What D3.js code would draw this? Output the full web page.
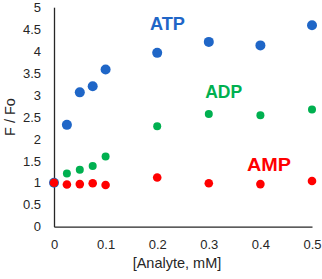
<!DOCTYPE html>
<html><head><meta charset="utf-8">
<script src="https://cdn.jsdelivr.net/npm/d3@7/dist/d3.min.js"></script>
<style>body{margin:0;background:#fff}svg{display:block}</style>
</head><body><svg id="c" width="322" height="279"></svg>
<script>
const xValues = [0, 0.025, 0.05, 0.075, 0.1, 0.2, 0.3, 0.4, 0.5];
const atp = [1, 2.32, 3.06, 3.20, 3.58, 3.96, 4.21, 4.13, 4.59];
const adp = [1, 1.21, 1.30, 1.38, 1.60, 2.29, 2.57, 2.54, 2.67];
const amp = [1, 0.96, 0.97, 0.99, 0.95, 1.12, 0.99, 0.97, 1.04];
const xTicks = [0, 0.1, 0.2, 0.3, 0.4, 0.5];
const yTicks = [0, 0.5, 1, 1.5, 2, 2.5, 3, 3.5, 4, 4.5, 5];
const seriesNames = ["ATP", "ADP", "AMP"];
const seriesColors = ["#1F66C7", "#00B050", "#FF0000"];
const labelPos = [[0.186, 4.48], [0.293, 2.93], [0.374, 1.27]];

const svg = d3.select("#c");
const x = d3.scaleLinear().domain([0, 0.5]).range([54, 312]);
const y = d3.scaleLinear().domain([0, 5]).range([226.7, 7.2]);
const font = "'Liberation Sans', Arial, sans-serif";

const xa = svg.append("g").attr("transform", "translate(0,226.7)")
  .call(d3.axisBottom(x).tickValues(xTicks).tickSize(0).tickPadding(13).tickFormat(d3.format("")));
const ya = svg.append("g").attr("transform", "translate(54,0)")
  .call(d3.axisLeft(y).tickValues(yTicks).tickSize(0).tickPadding(13).tickFormat(d3.format("")));
[xa, ya].forEach(a => {
  a.select(".domain").attr("stroke", "#262626").attr("stroke-width", 1.3);
  a.selectAll("text").attr("font-family", font).attr("font-size", 13).attr("fill", "#262626");
});

svg.append("text").attr("x", 177).attr("y", 268).attr("text-anchor", "middle")
  .attr("font-family", font).attr("font-size", 14.5).attr("fill", "#262626").text("[Analyte, mM]");
svg.append("text").attr("transform", "translate(15,117) rotate(-90)").attr("text-anchor", "middle")
  .attr("font-family", font).attr("font-size", 14.5).attr("fill", "#262626").text("F / Fo");

const data = [atp, adp, amp];
const radii = [5, 4, 4.3];
data.forEach((vals, i) => {
  svg.append("g").selectAll("circle").data(vals).join("circle")
    .attr("cx", (d, j) => x(xValues[j])).attr("cy", d => y(d))
    .attr("r", radii[i]).attr("fill", seriesColors[i]);
});

const labelWidths = [35, 37, 44];
seriesNames.forEach((n, i) => {
  svg.append("text").attr("x", x(labelPos[i][0])).attr("y", y(labelPos[i][1]))
    .attr("font-family", font).attr("font-weight", "bold").attr("font-size", 18.5)
    .attr("textLength", labelWidths[i]).attr("lengthAdjust", "spacingAndGlyphs")
    .attr("fill", seriesColors[i]).text(n);
});
</script></body></html>
